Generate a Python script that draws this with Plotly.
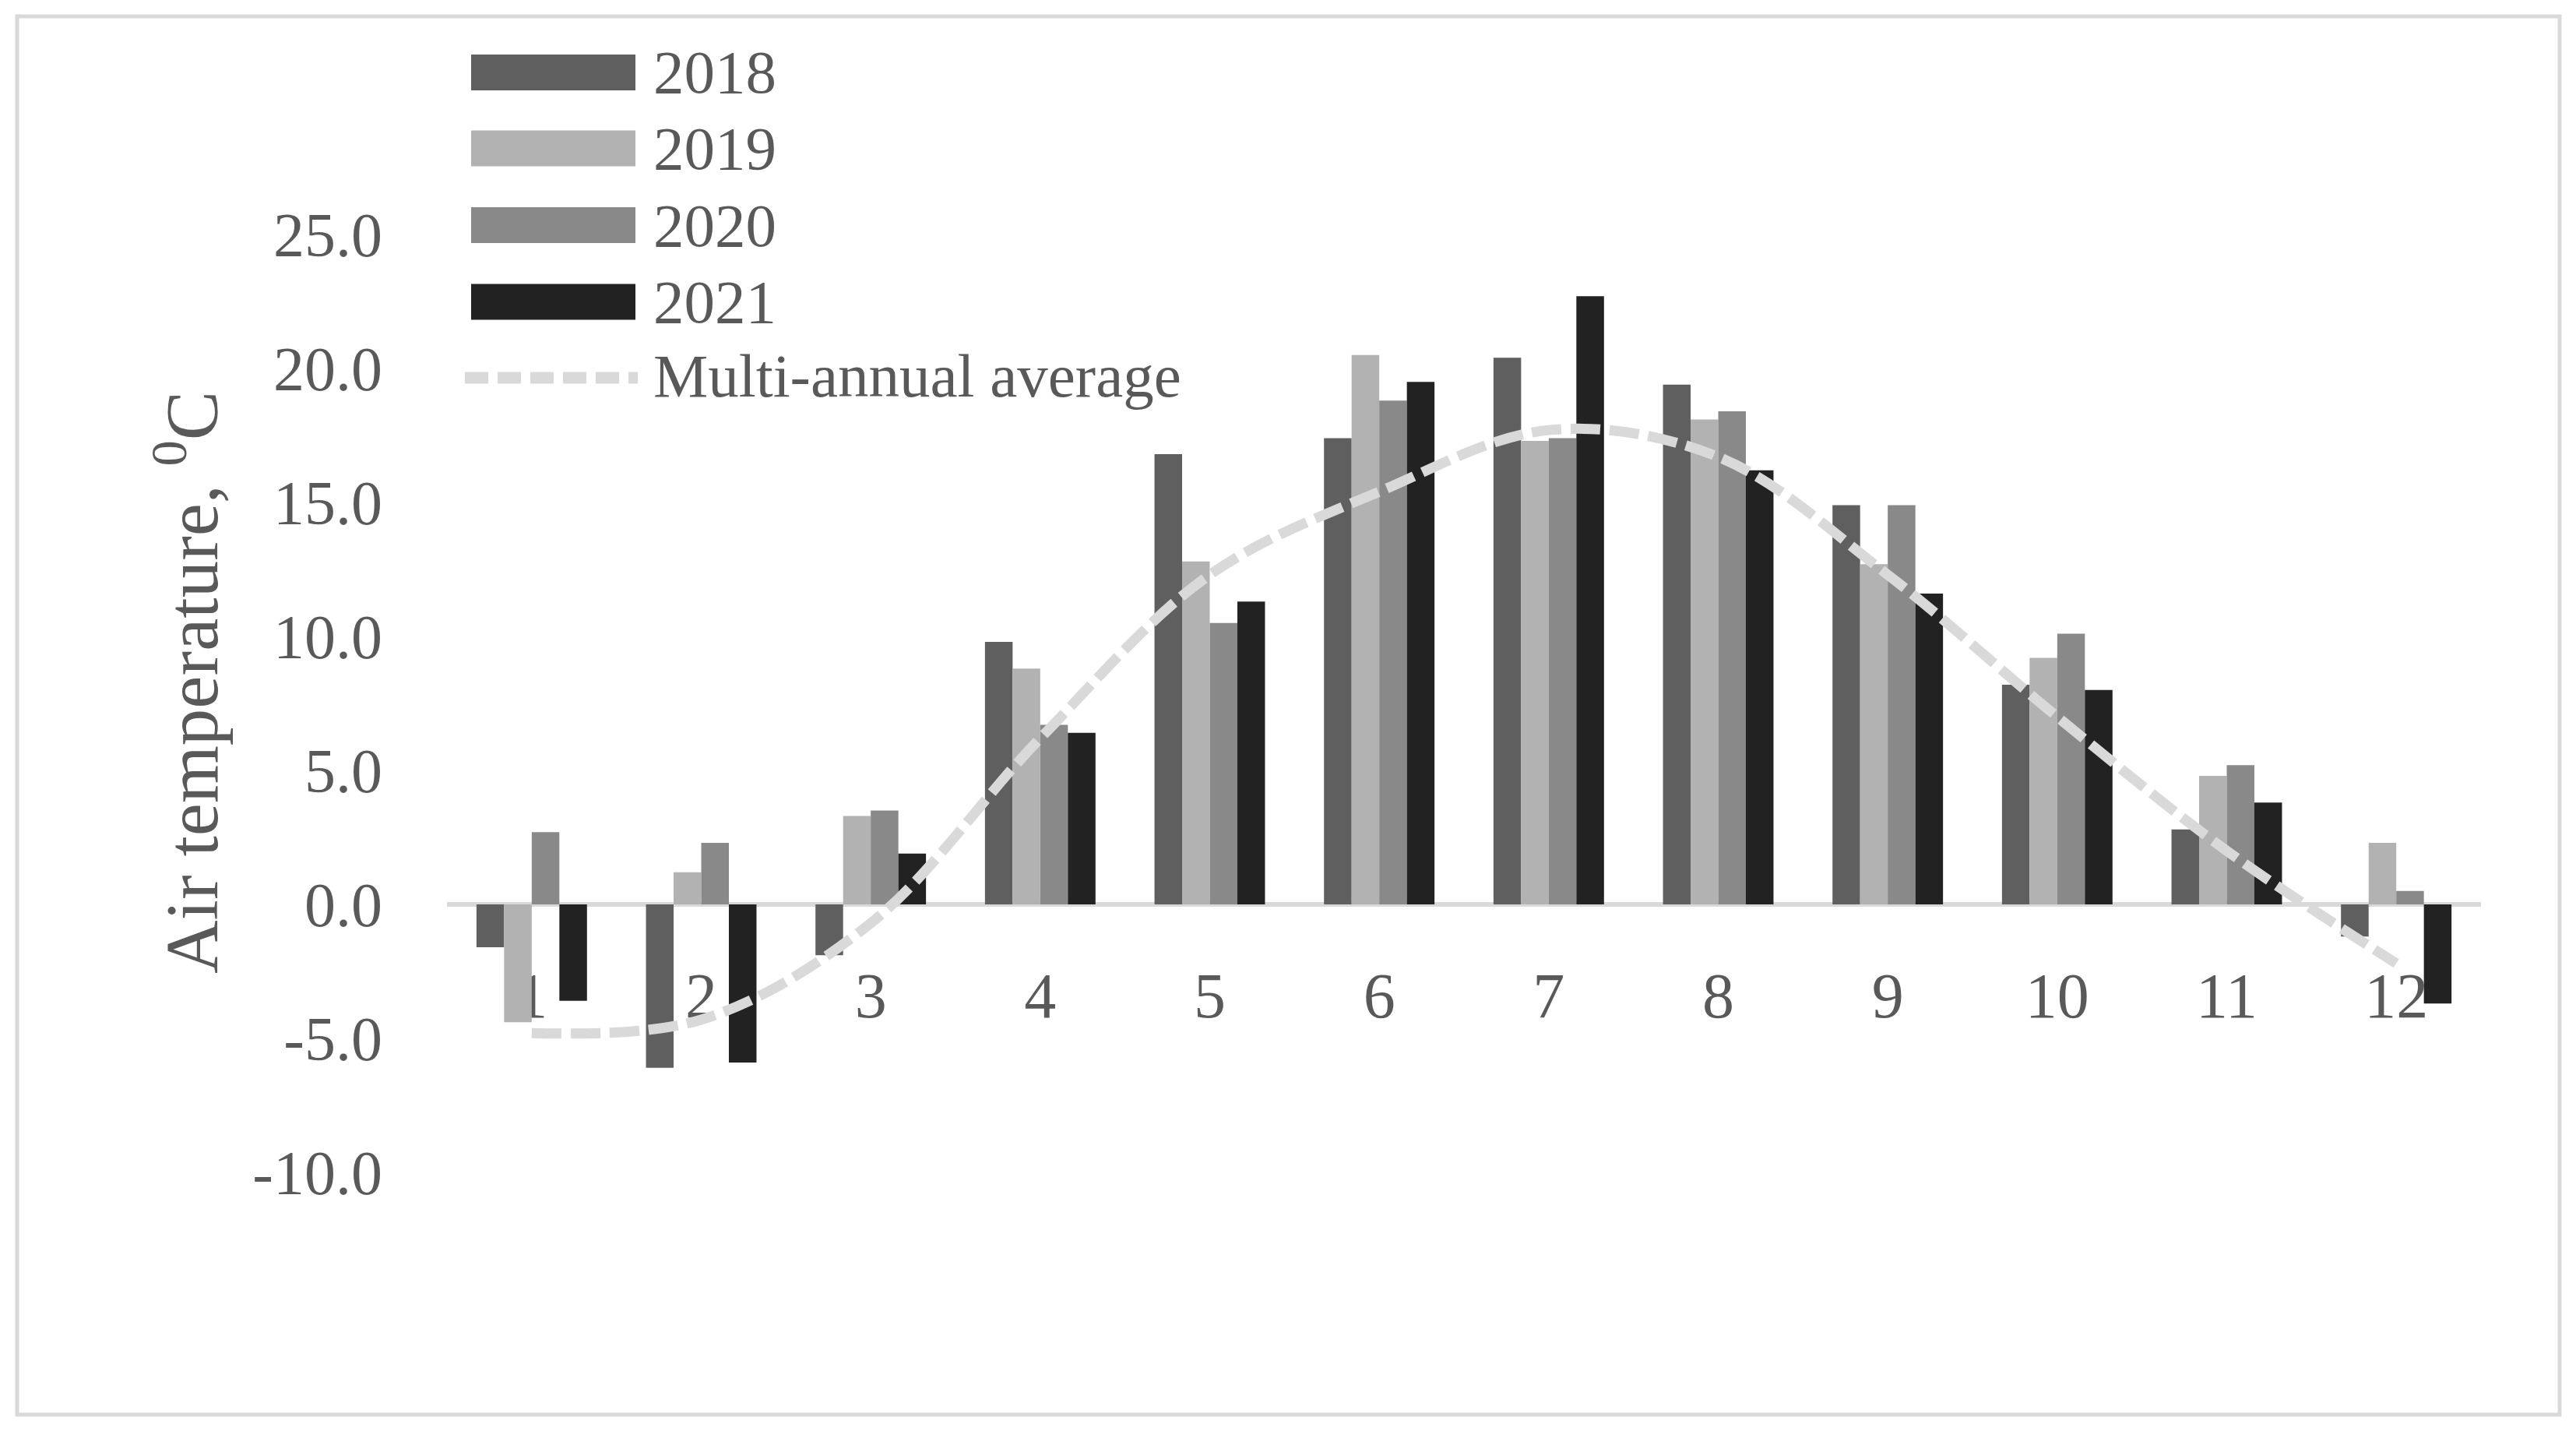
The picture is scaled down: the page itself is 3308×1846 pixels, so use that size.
import plotly.graph_objects as go

months = ["1", "2", "3", "4", "5", "6", "7", "8", "9", "10", "11", "12"]
t2018 = [-1.6, -6.1, -1.9, 9.8, 16.8, 17.4, 20.4, 19.4, 14.9, 8.2, 2.8, -1.2]
t2019 = [-4.4, 1.2, 3.3, 8.8, 12.8, 20.5, 17.3, 18.1, 12.7, 9.2, 4.8, 2.3]
t2020 = [2.7, 2.3, 3.5, 6.7, 10.5, 18.8, 17.4, 18.4, 14.9, 10.1, 5.2, 0.5]
t2021 = [-3.6, -5.9, 1.9, 6.4, 11.3, 19.5, 22.7, 16.2, 11.6, 8.0, 3.8, -3.7]
avg = [-4.8, -4.3, -0.7, 6.2, 12.3, 15.4, 17.7, 16.7, 12.3, 7.0, 2.0, -2.2]

y_tickvals = [-10, -5, 0, 5, 10, 15, 20, 25]
y_ticktext = ["-10.0", "-5.0", "0.0", "5.0", "10.0", "15.0", "20.0", "25.0"]

series_names = ["2018", "2019", "2020", "2021"]
series_vals = [t2018, t2019, t2020, t2021]
series_cols = ["#5f5f5f", "#b2b2b2", "#898989", "#222222"]
avg_name = "Multi-annual average"
avg_col = "#d9d9d9"
ytitle = "Air temperature, <sup>0</sup>C"

W, H = 3308, 1846
L, R, T, B = 574, 3186, 301, 1505
FONT = "Liberation Serif"
TXT = "#595959"


def px(x):
    return (x - L) / (R - L)


def py(y):
    return (B - y) / (B - T)


fig = go.Figure()
for name, vals, col in zip(series_names, series_vals, series_cols):
    fig.add_trace(go.Bar(x=months, y=vals, name=name, marker=dict(color=col, line=dict(width=0))))
fig.add_trace(go.Scatter(x=months, y=avg, name=avg_name, mode="lines",
                         line=dict(color=avg_col, width=13, dash="38px,12px", shape="spline", smoothing=1)))

shapes = []
annotations = []
# outer border
shapes.append(dict(type="rect", xref="paper", yref="paper", x0=px(22), x1=px(3287), y0=py(21), y1=py(1816),
                   line=dict(color="#d9d9d9", width=5), fillcolor="rgba(0,0,0,0)", layer="below"))
# custom legend
sw_x0, sw_x1 = 605, 816
rows = [93, 190.5, 289, 387.5]
for name, col, yc in zip(series_names, series_cols, rows):
    shapes.append(dict(type="rect", xref="paper", yref="paper", x0=px(sw_x0), x1=px(sw_x1),
                       y0=py(yc + 23), y1=py(yc - 23), fillcolor=col, line=dict(width=0)))
    annotations.append(dict(text=name, xref="paper", yref="paper", x=px(837), y=py(yc), xanchor="left",
                            yanchor="middle", showarrow=False, font=dict(family=FONT, size=79, color=TXT)))
shapes.append(dict(type="line", xref="paper", yref="paper", x0=px(597), x1=px(819), y0=py(485), y1=py(485),
                   line=dict(color=avg_col, width=15, dash="30px,12px")))
annotations.append(dict(text=avg_name, xref="paper", yref="paper", x=px(837), y=py(482), xanchor="left",
                        yanchor="middle", showarrow=False, font=dict(family=FONT, size=79, color=TXT)))
# y-axis title
annotations.append(dict(text=ytitle, xref="paper", yref="paper", x=px(240), y=py(876), textangle=-90,
                        xanchor="center", yanchor="middle", showarrow=False,
                        font=dict(family=FONT, size=95, color=TXT)))

fig.update_layout(
    width=W, height=H,
    margin=dict(l=L, r=W - R, t=T, b=H - B, pad=0),
    paper_bgcolor="white", plot_bgcolor="white",
    barmode="group", bargap=0.348, bargroupgap=0,
    showlegend=False,
    font=dict(family=FONT, size=80, color=TXT),
    shapes=shapes, annotations=annotations,
    xaxis=dict(type="category", anchor="free", position=10 / 35, showline=False, showgrid=False,
               ticks="", ticklabelstandoff=62, layer="below traces",
               tickfont=dict(family=FONT, size=82, color=TXT)),
    yaxis=dict(range=[-10, 25.001], tickmode="array", tickvals=y_tickvals, ticktext=y_ticktext,
               showgrid=False, showline=False,
               ticks="", zeroline=True, zerolinecolor="#d9d9d9", zerolinewidth=6,
               ticklabelstandoff=82, tickfont=dict(family=FONT, size=80, color=TXT)),
)

fig.write_html("out.html", config={"displayModeBar": False},
               post_script="document.body.style.margin='0';document.body.style.overflow='hidden';")
